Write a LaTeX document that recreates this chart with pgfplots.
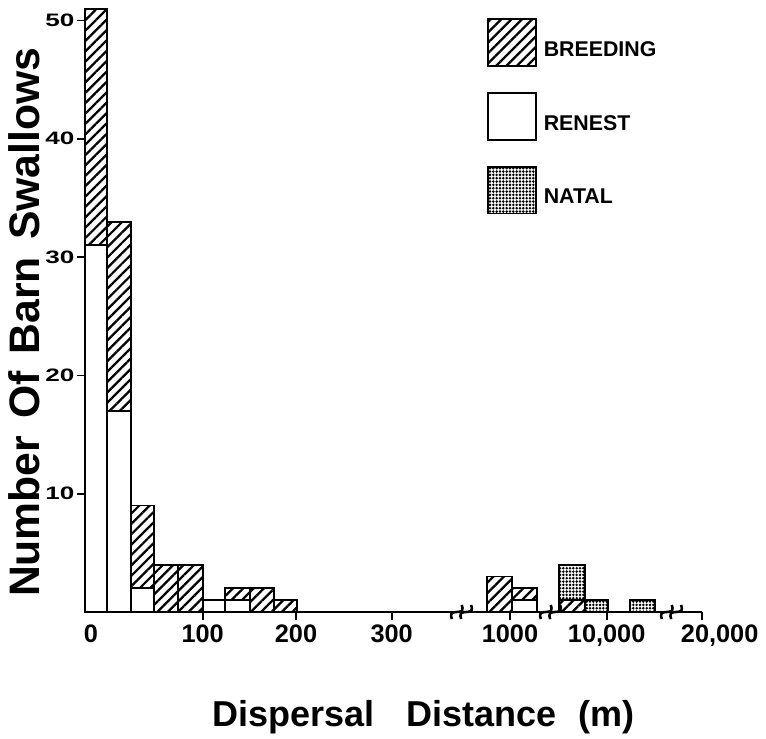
\documentclass[border=0pt]{standalone}
\usepackage{pgfplots}
\pgfplotsset{compat=1.18}
\usetikzlibrary{patterns.meta}
\usepackage{fontspec}
\setmainfont{Liberation Sans}
\newfontfamily\wide{Liberation Sans}[FakeStretch=1.45]

\tikzset{
  hatch/.style={fill=white, postaction={pattern={Lines[angle=45,distance=5.5pt,line width=1.7pt]}}},
  stipple/.style={fill=white, postaction={pattern={Dots[distance=2.5pt,radius=1.05pt]}}},
}
\pgfplotsset{bars/.style={ybar interval, draw=black, line width=1.4pt, forget plot}}
% axis break mark on the x axis
\newcommand\brk[1]{%
  \draw[line width=1.9pt, shift={(axis cs:#1,0)}, xshift=-3.5pt, rotate=55]
    (-6.5pt,0) sin (-3.25pt,2.6pt) cos (0,0) sin (3.25pt,-2.6pt) cos (6.5pt,0);
  \draw[line width=1.9pt, shift={(axis cs:#1,0)}, xshift=3.5pt, rotate=55]
    (-6.5pt,0) sin (-3.25pt,2.6pt) cos (0,0) sin (3.25pt,-2.6pt) cos (6.5pt,0);
}

\begin{document}
\begin{tikzpicture}
\path (0,0) rectangle (574.5pt,552.75pt);
\begin{axis}[
  at={(63.75pt,93.75pt)}, anchor=south west,
  scale only axis, width=462.5pt, height=452.5pt,
  xmin=0, xmax=616.7, ymin=0, ymax=51,
  axis lines=left, axis line style={-, line width=1.5pt},
  clip=false,
  tick align=outside, major tick length=6pt,
  tick style={line width=1.3pt, black},
  xtick={117.7,211,306.7,425,521.7,616.7},
  xticklabels={100,200,300,1000,{10,000},{\hspace*{27pt}20,000}},
  extra x ticks={6}, extra x tick labels={0},
  extra x tick style={major tick style={draw=none}},
  ytick={10,20,30,40,50},
  yticklabels={10,20,30,40,50},
  xticklabel style={font=\fontsize{19}{21}\selectfont\bfseries},
  yticklabel style={font=\wide\fontsize{13.5}{15}\selectfont\bfseries, xshift=1.5pt},
  xlabel={Dispersal\hspace{0.9em}Distance\hspace{0.6em}(m)},
  xlabel style={at={([yshift=-78.75pt]axis description cs:0.549,0)}, anchor=center,
    font=\fontsize{27}{31}\selectfont\bfseries},
  ylabel={Number\hspace{0.4em}Of\hspace{0.4em}Barn\hspace{0.4em}Swallows},
  ylabel style={at={([xshift=-45.5pt]axis description cs:0,0.48)}, anchor=center,
    font=\fontsize{32}{36}\selectfont\bfseries},
  legend cell align=left,
  legend style={at={(axis description cs:0.6519,0.9846)}, anchor=north west,
    draw=none, fill=none, inner sep=0pt, row sep=19pt, column sep=5pt,
    nodes={inner sep=0pt}, font=\fontsize{16}{18}\selectfont\bfseries},
  legend image code/.code={\draw[line width=1.4pt,#1] (0pt,-12pt) rectangle (36pt,23pt);},
]
% natal (stacked on top), cumulative heights
\addplot[bars, stipple] coordinates {(474,4) (500,1) (522.7,0)};
\addplot[bars, stipple] coordinates {(545,1) (570,0)};
% breeding, cumulative heights (renest + breeding)
\addplot[bars, hatch] coordinates {(0,51) (22,33) (46,9) (69,4) (93,4) (117.7,1) (140,2) (165,2) (189,1) (212,0)};
\addplot[bars, hatch] coordinates {(401.7,3) (426.7,2) (451.7,0)};
\addplot[bars, hatch] coordinates {(474,1) (500,0)};
% renest
\addplot[bars, fill=white] coordinates {(0,31) (22,17) (46,2) (69,0) (93,0) (117.7,1) (140,1) (165,0) (189,0) (212,0)};
\addplot[bars, fill=white] coordinates {(426.7,1) (451.7,0)};

\brk{376.5}
\brk{465.5}
\brk{586.5}

\addlegendimage{hatch}
\addlegendentry{BREEDING}
\addlegendimage{fill=white}
\addlegendentry{RENEST}
\addlegendimage{stipple}
\addlegendentry{NATAL}
\end{axis}
\end{tikzpicture}
\end{document}
